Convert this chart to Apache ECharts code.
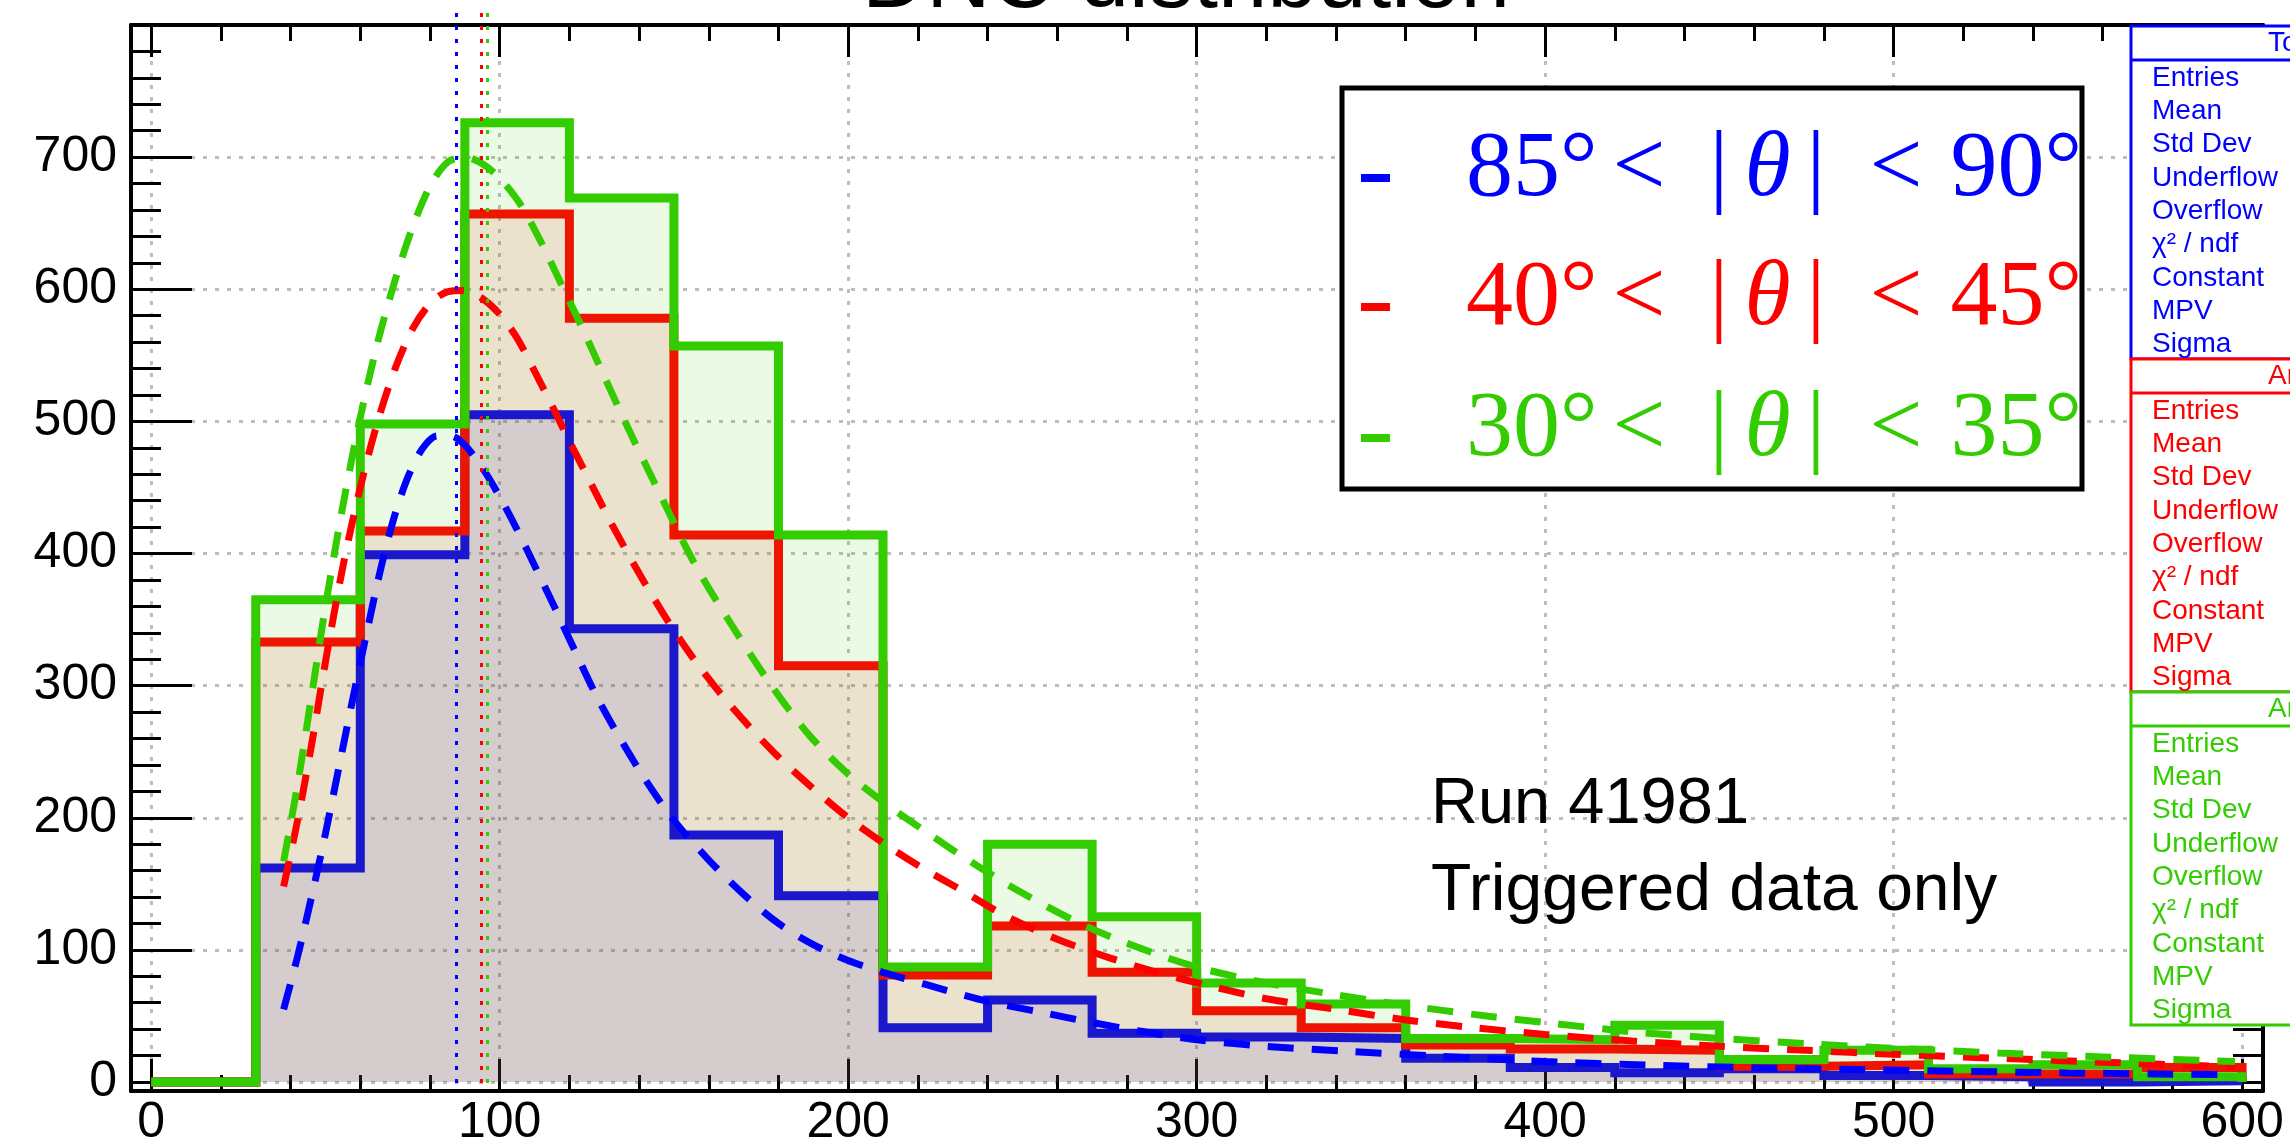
<!DOCTYPE html>
<html>
<head>
<meta charset="utf-8">
<script src="https://cdn.jsdelivr.net/npm/echarts@6/dist/echarts.min.js"></script>
<style>
html,body{margin:0;padding:0;background:#ffffff;}
#chart{width:2290px;height:1148px;}
</style>
</head>
<body>
<div id="chart"></div>
<script>
// ---------------- data ----------------
const binEdges = [0,30,60,90,120,150,180,210,240,270,300,330,360,390,420,450,480,510,540,570,600];
const blueCounts  = [0,162,399,505,343,187,141,41,62,37,34,33,18,11,7,10,5,4,0,1];
const redCounts   = [0,333,417,657,578,414,315,81,118,83,54,41,28,25,24,12,13,6,6,11];
const greenCounts = [0,365,498,726,669,557,414,87,180,125,75,59,33,32,43,17,24,10,13,4];

const blueFit = [[38,55],[42,95],[46,140],[50,188],[54,240],[58,292],[62,342],[66,390],[70,430],[74,460],[78,480],[82,489],[86,489],[90,482],[95,465],[100,443],[105,418],[110,391],[116,358],[122,324],[128,291],[135,258],[142,228],[150,198],[160,168],[170,142],[180,120],[190,104],[200,92],[210,83],[222,74],[240,61],[255,53],[270,45],[285,38],[300,32],[320,27],[345,23],[370,19.5],[400,15.5],[430,12.7],[460,10.8],[490,9.4],[520,8.1],[550,6.9],[575,6.1],[598,5.5]];
const redFit = [[38,148],[42,198],[46,255],[50,318],[55,390],[60,450],[65,500],[70,540],[75,570],[80,589],[85,598],[90,599],[95,593],[100,581],[105,563],[110,538],[115,512],[120,485],[126,454],[132,423],[140,385],[148,350],[156,319],[164,292],[172,268],[180,246],[190,222],[200,200],[210,181],[220,164],[232,146],[245,126],[260,108],[275,94],[290,82],[305,72],[320,63],[340,55],[360,47],[380,41],[400,36],[425,31],[450,27],[475,24],[500,21],[530,18],[560,15],[598,11.5]];
const greenFit = [[38,167],[42,225],[46,292],[50,360],[55,436],[60,503],[65,560],[70,607],[75,647],[80,678],[85,696],[90,700],[95,695],[100,684],[106,664],[112,635],[118,602],[124,569],[130,534],[137,494],[146,445],[156,392],[167,344],[178,300],[189,262],[200,233],[211,210],[222,190],[235,167],[250,143],[265,122],[280,105],[300,87],[320,75],[340,66],[360,58],[380,51],[400,45],[425,38],[450,33],[475,29],[500,25.5],[530,22],[560,19],[598,15.5]];

const mpvValues = [87.5, 94.6, 96.5];           // blue, red, green
const thetaLow  = [85, 40, 30];
const thetaHigh = [90, 45, 35];
const statsTitles = ['Total', 'Angle', 'Angle'];
const statsLabels = ['Entries','Mean','Std Dev','Underflow','Overflow','\u03C7\u00B2 / ndf','Constant','MPV','Sigma'];
const runText = ['Run 41981', 'Triggered data only'];
const titleText = 'DNC distribution';

const xMajorTicks = [0,100,200,300,400,500,600];
const xMinorTicks = [0,20,40,60,80,100,120,140,160,180,200,220,240,260,280,300,320,340,360,380,400,420,440,460,480,500,520,540,560,580,600];
const yMajorTicks = [0,100,200,300,400,500,600,700];
const yMinorTicks = [0,20,40,60,80,100,120,140,160,180,200,220,240,260,280,300,320,340,360,380,400,420,440,460,480,500,520,540,560,580,600,620,640,660,680,700,720,740,760,780];

// ---------------- styles ----------------
const histColors = ['#1a17cc', '#ee1500', '#33cc00'];
const fillColors = ['rgba(26,23,204,0.1)', 'rgba(238,21,0,0.1)', 'rgba(51,204,0,0.1)'];
const fitColors  = ['#0000ff', '#ff0000', '#33cc00'];
const SANS = '"Liberation Sans", Arial, Helvetica, sans-serif';
const SERIF = '"Liberation Serif", "Times New Roman", Times, serif';
const X_MIN = -5.8, X_MAX = 606, Y_MIN = -6.8, Y_MAX = 800;
const Y_MAX_EXT = 815.1; // same scale, grid extended 20px above the frame (for MPV markers)

function stepData(counts) {
  const pts = [];
  counts.forEach((v, i) => { pts.push([binEdges[i], v]); pts.push([binEdges[i + 1], v]); });
  pts.push([binEdges[binEdges.length - 1], 0]);
  return pts;
}

const tickLine = { color: '#000', width: 3 };
function xAxisDef(pos, ticks, len, major) {
  return {
    type: 'value', gridIndex: 0, position: pos, min: X_MIN, max: X_MAX,
    axisLine: { show: major, onZero: false, lineStyle: { color: '#000', width: 4 } },
    axisTick: { show: true, inside: true, length: len, customValues: ticks, lineStyle: tickLine },
    axisLabel: (pos === 'bottom' && major)
      ? { show: true, customValues: xMajorTicks, color: '#000', fontSize: 50, fontFamily: SANS, margin: 7 }
      : { show: false },
    splitLine: (pos === 'bottom' && major)
      ? { show: true, lineStyle: { color: '#bdbdbd', width: 3, type: [4, 8] } }
      : { show: false },
    minorTick: { show: false }, minorSplitLine: { show: false }
  };
}
function yAxisDef(pos, ticks, len, major) {
  return {
    type: 'value', gridIndex: 0, position: pos, min: Y_MIN, max: Y_MAX,
    axisLine: { show: major, onZero: false, lineStyle: { color: '#000', width: 4 } },
    axisTick: { show: true, inside: true, length: len, customValues: ticks, lineStyle: tickLine },
    axisLabel: (pos === 'left' && major)
      ? { show: true, customValues: yMajorTicks, color: '#000', fontSize: 50, fontFamily: SANS, margin: 14 }
      : { show: false },
    splitLine: (pos === 'left' && major)
      ? { show: true, lineStyle: { color: '#bdbdbd', width: 3, type: [4, 8] } }
      : { show: false },
    minorTick: { show: false }, minorSplitLine: { show: false }
  };
}

const histSets = [blueCounts, redCounts, greenCounts];
const fitSets = [blueFit, redFit, greenFit];
const series = [];
// fills: green, red, blue
[2, 1, 0].forEach(k => {
  series.push({
    type: 'line', data: stepData(histSets[k]), symbol: 'none', silent: true, z: 2,
    lineStyle: { width: 0, opacity: 0 },
    areaStyle: { color: fillColors[k], origin: 0, opacity: 1 },
    animation: false
  });
});
// histogram outlines: blue, red, green
[0, 1, 2].forEach(k => {
  series.push({
    type: 'line', data: stepData(histSets[k]), symbol: 'none', silent: true, z: 3,
    lineStyle: { color: histColors[k], width: 9, join: 'miter', cap: 'butt' },
    animation: false
  });
});
// fits
[0, 1, 2].forEach(k => {
  series.push({
    type: 'line', data: fitSets[k], symbol: 'none', silent: true, z: 4,
    smooth: 0.3,
    lineStyle: { color: fitColors[k], width: 7, type: [26, 18], cap: 'butt' },
    animation: false
  });
});
// MPV markers (overlay grid with identical scale that reaches 20px above the frame)
[0, 1, 2].forEach(k => {
  series.push({
    type: 'line', xAxisIndex: 4, yAxisIndex: 4, data: [[mpvValues[k], 0]],
    symbol: 'none', showSymbol: false, silent: true, z: 4, clip: false,
    lineStyle: { width: 0 },
    markLine: {
      silent: true, symbol: ['none', 'none'], animation: false,
      label: { show: false },
      lineStyle: { color: fitColors[k], width: 3, type: [4, 9] },
      data: [[{ coord: [mpvValues[k], 0] }, { coord: [mpvValues[k], Y_MAX_EXT] }]]
    },
    animation: false
  });
});

// ---------------- graphics (legend, stats boxes, texts) ----------------
const graphic = [];
graphic.push({ type: 'rect', z: 50, shape: { x: 1342, y: 88, width: 740, height: 401 },
  style: { fill: '#fff', stroke: '#000', lineWidth: 5 } });
const legendRowY = [170, 299, 430];
for (let k = 0; k < 3; k++) {
  const c = fitColors[k];
  graphic.push({ type: 'rect', z: 51, shape: { x: 1361, y: legendRowY[k] + 4, width: 29, height: 8 }, style: { fill: c } });
  graphic.push({ type: 'text', z: 51, x: 1466, y: legendRowY[k],
    style: {
      text: `{n|${thetaLow[k]}\u00B0}{a| }{n|<}{g| }{n||}{h| }{t|\u03B8}{h| }{n||}{g| }{n|<}{b| }{n|${thetaHigh[k]}\u00B0}`,
      verticalAlign: 'middle', align: 'left',
      rich: {
        n: { fontFamily: SERIF, fontSize: 94, fill: c, color: c },
        t: { fontFamily: SERIF, fontSize: 94, fontStyle: 'italic', fill: c, color: c },
        a: { fontFamily: SERIF, fontSize: 94, width: 15 },
        b: { fontFamily: SERIF, fontSize: 94, width: 28 },
        g: { fontFamily: SERIF, fontSize: 94, width: 44 },
        h: { fontFamily: SERIF, fontSize: 94, width: 16 }
      }
    } });
}
const boxTops = [26, 359, 692];
const boxH = 333;
for (let k = 0; k < 3; k++) {
  const c = fitColors[k];
  const top = boxTops[k];
  graphic.push({ type: 'rect', z: 60, shape: { x: 2131, y: top, width: 300, height: boxH },
    style: { fill: '#fff', stroke: c, lineWidth: 3 } });
  graphic.push({ type: 'line', z: 61, shape: { x1: 2131, y1: top + 34, x2: 2300, y2: top + 34 },
    style: { stroke: c, lineWidth: 3 } });
  graphic.push({ type: 'text', z: 61, x: 2268, y: top + 17,
    style: { text: statsTitles[k], fill: c, font: '28px ' + SANS, verticalAlign: 'middle', align: 'left' } });
  statsLabels.forEach((s, i) => {
    graphic.push({ type: 'text', z: 61, x: 2152, y: top + 52 + i * 33.3,
      style: { text: s, fill: c, font: '28px ' + SANS, verticalAlign: 'middle', align: 'left' } });
  });
}
graphic.push({ type: 'text', z: 40, x: 1431, y: 805,
  style: { text: runText[0], fill: '#000', font: '65px ' + SANS, verticalAlign: 'middle', align: 'left' } });
graphic.push({ type: 'text', z: 40, x: 1431, y: 892,
  style: { text: runText[1], fill: '#000', font: '66px ' + SANS, verticalAlign: 'middle', align: 'left' } });
graphic.push({ type: 'text', z: 40, x: 862, y: -18,
  style: { text: titleText, fill: '#000', font: '89px ' + SANS, verticalAlign: 'middle', align: 'left' } });

const chart = echarts.init(document.getElementById('chart'), null, { renderer: 'canvas' });
chart.setOption({
  animation: false,
  backgroundColor: '#ffffff',
  grid: [
    { left: 131, right: 27, top: 25, bottom: 56, containLabel: false },
    { left: 131, right: 27, top: 5, bottom: 56, containLabel: false }
  ],
  xAxis: [
    xAxisDef('bottom', xMajorTicks, 32, true),
    xAxisDef('bottom', xMinorTicks, 16, false),
    xAxisDef('top', xMajorTicks, 32, true),
    xAxisDef('top', xMinorTicks, 16, false),
    { type: 'value', gridIndex: 1, min: X_MIN, max: X_MAX, show: false }
  ],
  yAxis: [
    yAxisDef('left', yMajorTicks, 61, true),
    yAxisDef('left', yMinorTicks, 30, false),
    yAxisDef('right', yMajorTicks, 61, true),
    yAxisDef('right', yMinorTicks, 30, false),
    { type: 'value', gridIndex: 1, min: Y_MIN, max: Y_MAX_EXT, show: false }
  ],
  series: series,
  graphic: graphic
});
</script>
</body>
</html>
